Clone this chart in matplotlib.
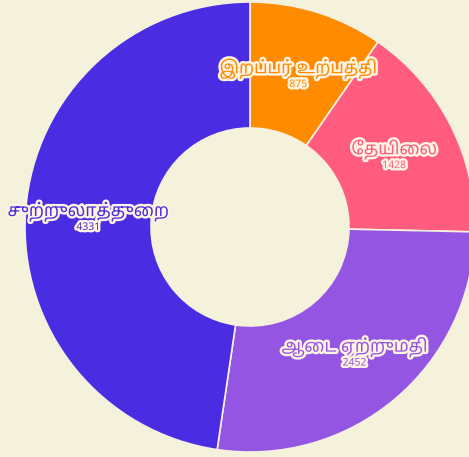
import matplotlib
matplotlib.use('Agg')
import matplotlib.pyplot as plt
import matplotlib.patheffects as pe
import numpy as np

# data
labels = ['இறப்பர் உற்பத்தி', 'தேயிலை', 'ஆடை ஏற்றுமதி', 'சுற்றுலாத்துறை']
values = [875, 1428, 2452, 4331]
colors = ['#FF8C00', '#FF5C80', '#9455E2', '#4A2DE2']

bg = '#F5F2DC'

PREFIX = {'\u0BC6', '\u0BC7', '\u0BC8'}
SPLIT = {'\u0BCA': ('\u0BC6', '\u0BBE'), '\u0BCB': ('\u0BC7', '\u0BBE'),
         '\u0BCC': ('\u0BC6', '\u0BD7')}


def visual(s):
    # matplotlib has no shaping, so move prefix vowel signs before the consonant
    out = []
    for ch in s:
        if ch in PREFIX and out:
            out.insert(len(out) - 1, ch)
        elif ch in SPLIT and out:
            a, b = SPLIT[ch]
            out.insert(len(out) - 1, a)
            out.append(b)
        else:
            out.append(ch)
    return ''.join(out)


fig = plt.figure(figsize=(4.69, 4.57), dpi=100, facecolor=bg)
ax = fig.add_axes([0, 0, 1, 1])
ax.set_facecolor(bg)

hole = 0.44
wedges, _ = ax.pie(values, colors=colors, startangle=90, counterclock=False,
                   radius=1, wedgeprops=dict(width=1 - hole, edgecolor='#F5F0E0', linewidth=1.2))

ax.set_xlim(-250 / 225, (469 - 250) / 225)
ax.set_ylim(-230 / 225, 227 / 225)
ax.set_aspect('equal')
ax.axis('off')

fam = ['Noto Sans Tamil', 'DejaVu Sans']
glow = [pe.withStroke(linewidth=3.5, foreground='#FFF3E3')]
rmid = (1 + hole) / 2
for w, lab, v, c in zip(wedges, labels, values, colors):
    ang = np.deg2rad((w.theta1 + w.theta2) / 2)
    x, y = rmid * np.cos(ang), rmid * np.sin(ang)
    ax.text(x, y - 0.03, visual(lab), ha='center', va='bottom', fontsize=12.5,
            fontweight='bold', color=c, family=fam, path_effects=glow)
    ax.text(x, y - 0.03, str(v), ha='center', va='top', fontsize=7.5,
            fontweight='bold', color=c, family=fam, path_effects=glow)

fig.savefig('out.png', facecolor=bg)
